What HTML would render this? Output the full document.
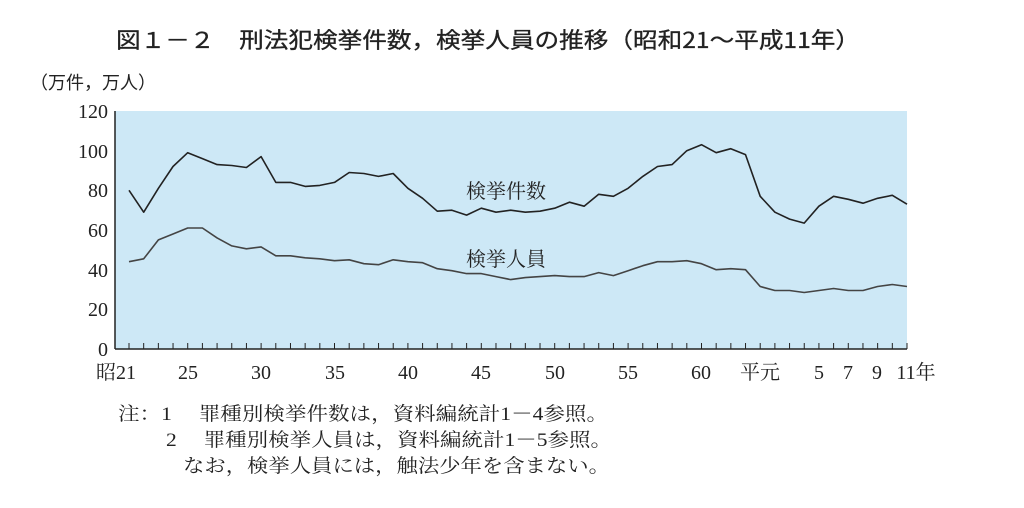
<!DOCTYPE html>
<html><head><meta charset="utf-8"><style>
html,body{margin:0;padding:0;background:#fff;width:1024px;height:508px;overflow:hidden}
svg text{font-family:"Liberation Serif","Noto Serif CJK SC",serif;fill:#222}
</style></head><body>
<svg id="c" width="1024" height="508" xmlns="http://www.w3.org/2000/svg">
<text x="116" y="48" font-size="22" style="font-family:'Noto Sans CJK JP',sans-serif;font-weight:400" textLength="744" lengthAdjust="spacingAndGlyphs" stroke="#222" stroke-width="0.3">図１－２　刑法犯検挙件数，検挙人員の推移（昭和21～平成11年）</text>
<text x="30" y="89" font-size="18" style="font-family:'Noto Sans CJK JP',sans-serif">（万件，万人）</text>
<rect x="115" y="111" width="792" height="238" fill="#cde8f6"/>
<g id="g"></g>
<line x1="115" y1="111" x2="115" y2="349" stroke="#222" stroke-width="1.5"/>
<line x1="115" y1="349" x2="907" y2="349" stroke="#222" stroke-width="1.5"/>
<g font-size="20" text-anchor="end">
<text x="108" y="118">120</text><text x="108" y="158">100</text><text x="108" y="197">80</text>
<text x="108" y="237">60</text><text x="108" y="277">40</text><text x="108" y="316">20</text><text x="108" y="356">0</text>
</g>
<g font-size="20" text-anchor="middle">
<text x="116" y="379">昭21</text><text x="188" y="379">25</text><text x="261" y="379">30</text>
<text x="335" y="379">35</text><text x="408" y="379">40</text><text x="481" y="379">45</text>
<text x="555" y="379">50</text><text x="628" y="379">55</text><text x="701" y="379">60</text>
<text x="760" y="379">平元</text><text x="819" y="379">5</text><text x="848" y="379">7</text>
<text x="877" y="379">9</text><text x="916" y="379">11年</text>
</g>
<text x="466" y="198" font-size="20">検挙件数</text>
<text x="466" y="266" font-size="20">検挙人員</text>
<g font-size="19">
<text x="118" y="420" textLength="490" lengthAdjust="spacingAndGlyphs">注：1　 罪種別検挙件数は，資料編統計1－4参照。</text>
<text x="166" y="446" textLength="446" lengthAdjust="spacingAndGlyphs">2　 罪種別検挙人員は，資料編統計1－5参照。</text>
<text x="183" y="472" textLength="427" lengthAdjust="spacingAndGlyphs">なお，検挙人員には，触法少年を含まない。</text>
</g>
</svg>
<script>
var a=[80,69,81,92,99,96,93,92.5,91.5,97,84,84,82,82.5,84,89,88.5,87,88.5,81,76,69.5,70,67.5,71,69,70,69,69.5,71,74,72,78,77,81,87,92,93,100,103,99,101,98,77,69,65.5,63.5,72,77,75.5,73.5,76,77.5,73];
var b=[44,45.5,55,58,61,61,56,52,50.5,51.5,47,47,46,45.5,44.5,45,43,42.5,45,44,43.5,40.5,39.5,38,38,36.5,35,36,36.5,37,36.5,36.5,38.5,37,39.5,42,44,44,44.5,43,40,40.5,40,31.5,29.5,29.5,28.5,29.5,30.5,29.5,29.5,31.5,32.5,31.5];
var g=document.getElementById('g'),h='';
function X(i){return 129+i*(907-129)/53}
function Y(v){return 349-v*238/120}
function pl(d,c){return '<polyline fill="none" stroke="'+c+'" stroke-width="1.6" stroke-linejoin="round" points="'+d.map(function(v,i){return X(i).toFixed(1)+','+Y(v).toFixed(1)}).join(' ')+'"/>'}
h+=pl(a,'#222')+pl(b,'#444');
for(var i=0;i<54;i++)h+='<line x1="'+X(i)+'" y1="349" x2="'+X(i)+'" y2="343" stroke="#222" stroke-width="1"/>';
g.innerHTML=h;
</script>
</body></html>
